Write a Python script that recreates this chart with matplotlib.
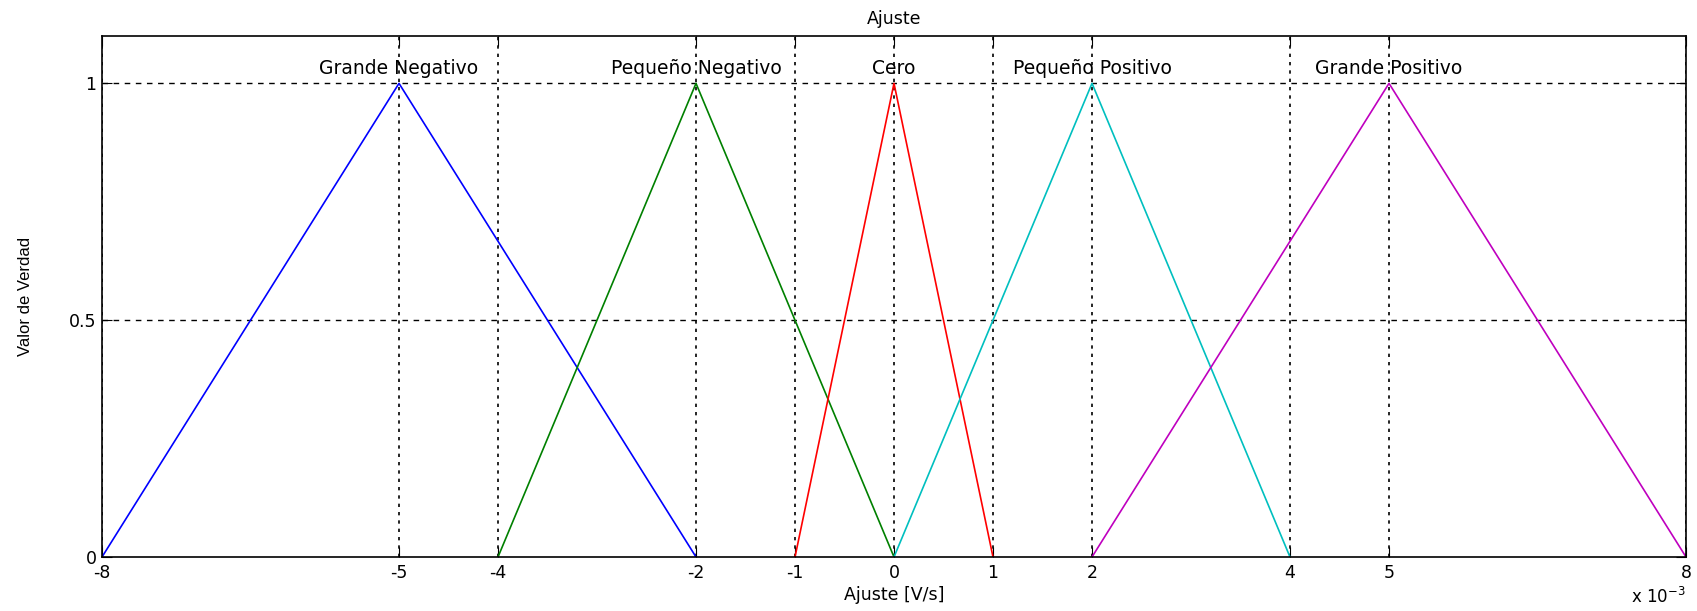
import matplotlib.pyplot as plt

# valores del eje x en unidades de 1e-3 (V/s)
nombres = ['Grande Negativo', 'Pequeño Negativo', 'Cero', 'Pequeño Positivo', 'Grande Positivo']
inicio = [-8, -4, -1, 0, 2]
pico = [-5, -2, 0, 2, 5]
fin = [-2, 0, 1, 4, 8]
colores = ['#0000ff', '#008000', '#ff0000', '#00bfbf', '#bf00bf']

xticks = [-8, -5, -4, -2, -1, 0, 1, 2, 4, 5, 8]
yticks = [0, 0.5, 1]

plt.rcParams['font.family'] = ['DejaVu Sans']
plt.rcParams['mathtext.default'] = 'regular'

fig = plt.figure(figsize=(16.97, 6.11), dpi=100)
ax = fig.add_axes([102 / 1697, 54 / 611, 1584 / 1697, 521 / 611])

for x in xticks:
    ax.axvline(x, color='black', lw=1.2, ls=(0, (2, 3)), zorder=1)
for y in yticks[1:]:
    ax.axhline(y, color='black', lw=1.0, ls=(0, (4, 4)), zorder=1)

for nom, a, b, c, col in zip(nombres, inicio, pico, fin, colores):
    ax.plot([a, b, c], [0, 1, 0], color=col, lw=1.2, zorder=2)
    ax.text(b, 1.012, nom, ha='center', va='bottom', fontsize=13.5)

ax.set_xlim(-8, 8)
ax.set_ylim(0, 1.1)
ax.set_xticks(xticks)
ax.set_xticklabels([str(v) for v in xticks])
ax.set_yticks(yticks)
ax.set_yticklabels(['0', '0.5', '1'])
ax.tick_params(direction='in', top=True, right=True, labelsize=12.5, length=7)
ax.tick_params(axis='x', pad=5)
ax.tick_params(axis='y', pad=4)
for s in ax.spines.values():
    s.set_linewidth(1.2)

ax.set_title('Ajuste', fontsize=12.5, pad=9)
ax.set_xlabel('Ajuste [V/s]', fontsize=12.5, labelpad=3)
ax.set_ylabel('Valor de Verdad', fontsize=12, labelpad=26,
              family=['Liberation Sans Narrow', 'Liberation Sans'])
ax.text(1.0, -0.088, r'x 10$^{-3}$', transform=ax.transAxes, ha='right', va='baseline', fontsize=12)

fig.savefig('out.png', dpi=100)
